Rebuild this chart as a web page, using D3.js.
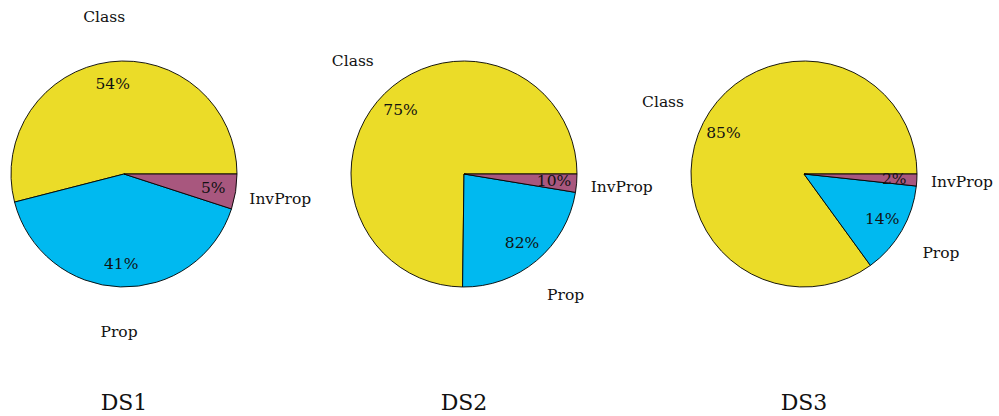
<!DOCTYPE html>
<html><head><meta charset="utf-8">
<script src="https://cdn.jsdelivr.net/npm/d3@7"></script>
<style>body{margin:0;background:#fff}svg{display:block}text{font-family:"DejaVu Serif",serif;fill:#111}</style>
</head><body>
<svg id="c" width="999" height="416"></svg>
<script>
const datasets = ["DS1", "DS2", "DS3"];
const categories = ["Class", "Prop", "InvProp"];
const ds1Values = [54, 41, 5];
const ds2Values = [74.8, 22.6, 2.6];
const ds3Values = [85, 13.3, 1.7];
const ds1Labels = ["54%", "41%", "5%"];
const ds2Labels = ["75%", "82%", "10%"];
const ds3Labels = ["85%", "14%", "2%"];
const colors = ["#ebdc28", "#00b9f0", "#a8577e"];

const values = [ds1Values, ds2Values, ds3Values];
const labels = [ds1Labels, ds2Labels, ds3Labels];

const svg = d3.select("#c");
const R = 113, cy = 174;
const xPos = d3.scalePoint().domain(datasets).range([124, 804]);
const color = d3.scaleOrdinal().domain(categories).range(colors);

const pie = d3.pie().sort(null).value(o => o.v)
  .startAngle(Math.PI / 2).endAngle(Math.PI / 2 - 2 * Math.PI);
const arc = d3.arc().innerRadius(0).outerRadius(R);
const pos = (d, k) => {
  const a = (d.startAngle + d.endAngle) / 2;
  return [k * R * Math.sin(a), -k * R * Math.cos(a)];
};

datasets.forEach((ds, i) => {
  const g = svg.append("g").attr("transform", `translate(${xPos(ds)},${cy})`);
  const pieData = pie(values[i].map((v, j) => ({cat: categories[j], v, lab: labels[i][j]})));
  g.selectAll("path").data(pieData).join("path")
    .attr("d", arc)
    .attr("fill", d => color(d.data.cat))
    .attr("stroke", "#000").attr("stroke-width", 0.9).attr("stroke-linejoin", "round");
  g.selectAll("text.pct").data(pieData).join("text").attr("class", "pct")
    .attr("x", d => pos(d, 0.8)[0]).attr("y", d => pos(d, 0.8)[1])
    .attr("text-anchor", "middle").attr("dominant-baseline", "central")
    .attr("font-size", 15.5).text(d => d.data.lab);
  g.selectAll("text.lab").data(pieData).join("text").attr("class", "lab")
    .attr("x", d => pos(d, 1.4)[0]).attr("y", d => pos(d, 1.4)[1])
    .attr("text-anchor", "middle").attr("dominant-baseline", "central")
    .attr("font-size", 15.5).text(d => d.data.cat);
  svg.append("text").attr("x", xPos(ds)).attr("y", 402)
    .attr("text-anchor", "middle").attr("dominant-baseline", "central")
    .attr("font-size", 22).text(ds);
});
</script>
</body></html>
